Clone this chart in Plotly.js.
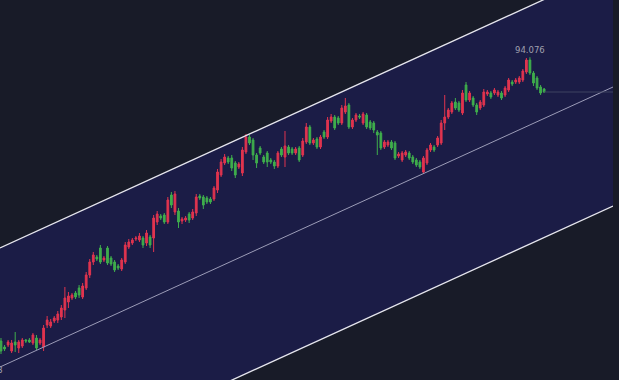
<!DOCTYPE html>
<html>
<head>
<meta charset="utf-8">
<script src="https://cdn.plot.ly/plotly-3.0.1.min.js"></script>
<style>html,body{margin:0;padding:0;background:#181b28;}#chart{width:619px;height:380px;}</style>
</head>
<body>
<div id="chart"></div>
<script>
// Candle data (price units)
const open = [65.7,65.1,65.3,64.7,65.6,65.0,65.2,65.8,65.8,65.5,66.0,65.5,65.1,67.3,67.2,67.7,67.8,68.1,68.8,69.6,70.0,70.5,71.0,70.1,71.0,72.3,73.6,74.1,75.0,73.8,75.0,74.0,73.6,73.2,72.9,73.6,75.1,75.5,75.9,75.8,76.0,75.5,76.1,76.0,77.6,78.2,78.3,77.6,80.3,78.6,78.7,77.7,77.8,78.4,78.0,78.5,80.2,80.1,80.0,79.9,79.9,80.8,82.3,83.5,84.0,84.0,83.5,83.1,82.5,84.6,86.1,85.8,84.3,85.0,84.1,84.5,83.8,83.6,83.2,84.9,84.1,85.1,84.9,84.5,85.0,84.3,85.6,87.1,85.5,85.9,85.1,86.6,86.1,87.7,88.1,88.0,87.5,88.6,89.3,87.1,87.8,88.2,87.5,88.3,87.6,87.5,86.6,86.5,85.1,85.3,85.6,85.5,84.2,83.8,84.3,84.5,84.1,83.8,83.6,82.6,83.5,84.8,85.1,85.3,85.5,87.5,88.1,88.6,89.6,89.5,88.5,91.3,89.8,90.0,89.3,89.0,89.3,90.4,90.5,90.5,90.3,90.5,90.3,90.8,91.6,91.6,91.6,91.8,92.6,93.8,92.5,92.0,91.1,90.9];
const high = [66.0,65.3,65.8,65.8,66.6,65.8,66.0,65.9,66.0,66.5,66.3,66.0,67.3,68.2,67.9,68.2,68.7,69.3,71.1,70.6,70.5,70.7,71.3,71.5,72.6,73.9,74.6,74.3,75.3,74.2,75.2,74.2,73.8,73.4,74.0,75.6,75.9,76.0,76.2,76.5,76.2,76.8,76.3,78.3,78.7,78.4,78.5,80.1,80.6,80.7,79.0,78.1,78.2,78.6,78.9,80.4,80.4,80.3,80.2,80.1,81.2,82.9,83.9,84.4,84.2,84.3,83.7,83.6,85.1,86.4,86.3,86.0,84.5,85.2,84.3,84.7,84.0,83.8,84.7,85.1,86.7,85.3,85.1,85.1,85.2,86.0,87.5,87.3,86.0,86.1,86.3,86.8,88.1,88.4,88.3,88.2,89.3,90.0,89.5,88.0,88.5,88.4,88.6,88.5,87.8,87.7,86.8,86.7,85.8,85.8,85.8,85.7,84.6,84.7,84.8,84.7,84.3,84.0,83.8,84.2,85.0,85.5,85.3,86.2,87.8,90.3,89.0,89.7,90.0,89.7,90.8,91.6,90.7,90.2,89.5,89.8,90.9,90.8,90.7,91.0,90.8,90.7,91.2,92.0,91.8,92.0,92.2,92.9,94.0,94.076,92.7,92.2,91.3,91.0];
const low = [64.4,64.7,65.1,64.5,64.6,64.5,65.0,65.5,65.5,65.3,64.8,65.3,64.7,67.0,67.0,67.5,67.5,67.8,68.0,69.0,69.8,69.9,70.0,69.9,70.8,72.0,73.3,73.7,73.4,73.6,73.3,73.2,72.6,72.8,72.7,73.4,74.9,75.3,75.7,75.6,75.0,75.2,75.0,74.6,77.3,77.8,77.4,77.4,79.0,78.3,77.0,77.4,77.6,77.5,77.8,78.2,79.8,78.9,79.4,79.4,79.7,80.5,82.1,83.3,83.4,82.7,82.0,82.9,82.2,84.4,85.3,83.8,83.0,84.3,83.4,83.1,83.4,82.9,83.0,84.1,83.1,84.3,84.3,84.3,83.6,84.1,85.4,85.3,85.3,84.9,84.9,85.9,85.9,87.5,86.8,87.3,87.3,88.4,86.9,86.9,87.6,87.9,87.3,86.9,86.8,86.5,84.3,84.8,84.9,85.1,84.8,83.8,84.0,83.6,84.1,83.8,83.4,83.1,82.9,82.5,83.3,84.6,84.6,85.1,85.3,86.8,87.9,88.4,88.8,88.6,88.3,89.6,89.6,89.1,88.3,88.8,89.1,90.2,89.9,90.3,90.1,89.8,90.1,90.6,91.2,91.4,91.4,91.6,92.4,92.3,91.2,90.8,90.3,90.5];
const close = [64.7,64.9,65.6,65.5,65.3,65.6,65.8,65.7,65.6,66.3,65.0,65.8,67.0,67.8,67.6,68.0,68.4,69.0,70.0,70.2,70.3,70.1,70.3,71.2,72.3,73.6,74.3,73.9,73.6,74.0,73.5,73.4,72.8,73.0,73.8,75.3,75.6,75.8,76.0,76.2,75.3,76.5,75.3,78.0,78.4,78.0,77.6,79.8,79.3,80.4,77.6,77.9,78.0,77.8,78.6,80.1,80.0,79.3,79.6,79.6,81.0,82.6,83.6,84.1,83.6,83.0,82.3,83.4,84.8,86.1,85.5,84.3,83.5,84.5,83.6,83.6,83.6,83.2,84.5,84.3,85.2,84.5,84.5,84.9,83.8,85.7,87.1,85.5,85.8,85.1,86.1,86.1,87.8,88.1,87.0,87.5,89.0,89.2,87.1,87.8,88.3,88.1,88.4,87.1,87.0,86.8,86.3,85.0,85.6,85.6,85.0,84.0,84.4,84.5,84.6,84.0,83.6,83.3,83.1,84.0,84.8,85.3,84.8,86.0,87.5,88.1,88.8,89.5,89.0,88.8,90.5,89.8,90.5,89.3,88.6,89.6,90.6,90.6,90.1,90.8,90.6,90.0,91.0,91.8,91.4,91.8,92.0,92.7,93.8,92.5,91.5,91.0,90.5,90.6];

// Channel anchor points (x in candle index, y in price)
const chanX = [-0.28, 172.4];
const chanTop = [75.0, 103.0];
const chanMid = [63.1, 91.1];
const chanBot = [51.2, 79.2];

const peakLabel = "94.076";
const startLabel = "63.103";

const idx = open.map((_, i) => i);
const lastI = idx.length - 1;
let peakI = 0;
high.forEach((h, i) => { if (h > high[peakI]) peakI = i; });

// channel fill as a shape below the traces (built from the channel arrays)
const fillPath = 'M ' + chanX[0] + ' ' + chanBot[0] + ' L ' + chanX[1] + ' ' + chanBot[1] +
                 ' L ' + chanX[1] + ' ' + chanTop[1] + ' L ' + chanX[0] + ' ' + chanTop[0] + ' Z';

const traces = [
  {type:'candlestick', x:idx, open:open, high:high, low:low, close:close,
   increasing:{line:{color:'#e0344f', width:1}, fillcolor:'#e0344f'},
   decreasing:{line:{color:'#3fae4c', width:1}, fillcolor:'#3fae4c'},
   whiskerwidth:0, hoverinfo:'skip'},
  {type:'scatter', mode:'lines', x:chanX, y:chanBot, line:{color:'#e6e6ee', width:1.3}, hoverinfo:'skip'},
  {type:'scatter', mode:'lines', x:chanX, y:chanTop, line:{color:'#e6e6ee', width:1.3}, hoverinfo:'skip'},
  {type:'scatter', mode:'lines', x:chanX, y:chanMid, line:{color:'#9c9cb8', width:1}, hoverinfo:'skip'},
  {type:'scatter', mode:'lines', x:[idx[lastI], chanX[1]], y:[close[lastI], close[lastI]], line:{color:'#3e4260', width:1}, hoverinfo:'skip'}
];

const layout = {
  width:619, height:380,
  margin:{l:0, r:6, t:0, b:0},
  paper_bgcolor:'#181b28', plot_bgcolor:'#181b28',
  showlegend:false,
  hovermode:false,
  xaxis:{range:[chanX[0], chanX[1]], visible:false, rangeslider:{visible:false}, showgrid:false, zeroline:false},
  yaxis:{range:[61.8, 99.8], visible:false, showgrid:false, zeroline:false},
  shapes:[
    {type:'path', xref:'x', yref:'y', path:fillPath, fillcolor:'#1b1c46', line:{width:0}, layer:'below'}
  ],
  annotations:[
    {x:peakI, y:high[peakI], xref:'x', yref:'y', text:peakLabel, showarrow:false, yanchor:'bottom', yshift:0,
     font:{family:'DejaVu Sans, sans-serif', size:8.5, color:'#a0a0ae'}},
    {x:0, y:62.8, xref:'paper', yref:'y', text:startLabel, showarrow:false, xanchor:'right', xshift:5,
     font:{family:'DejaVu Sans, sans-serif', size:8.5, color:'#a0a0ae'}}
  ]
};

Plotly.newPlot('chart', traces, layout, {staticPlot:true, displayModeBar:false});
</script>
</body>
</html>
